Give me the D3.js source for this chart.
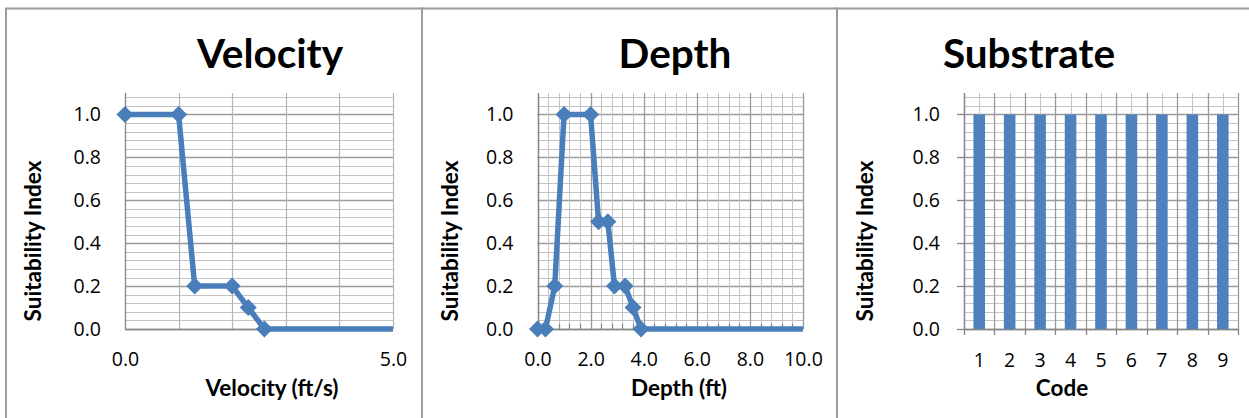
<!DOCTYPE html>
<html>
<head>
<meta charset="utf-8">
<script src="https://cdn.jsdelivr.net/npm/d3@7"></script>
<style>
  body { margin: 0; background: #fff; }
  svg { display: block; font-family: Lato, "Open Sans", sans-serif; }
</style>
</head>
<body>
<svg id="chart" width="1249" height="418"></svg>
<script>
// suitability curves
const velocityFt = [0, 1.0, 1.3, 2.0, 2.3, 2.6, 10]
const velocitySI = [1, 1, 0.2, 0.2, 0.1, 0, 0]
const depthFt = [0, 0.3, 0.65, 1.0, 2.0, 2.3, 2.65, 2.9, 3.3, 3.6, 3.9, 20]
const depthSI = [0, 0, 0.2, 1, 1, 0.5, 0.5, 0.2, 0.2, 0.1, 0, 0]
const substrateCodes = ["1", "2", "3", "4", "5", "6", "7", "8", "9"]
const substrateSI = [1, 1, 1, 1, 1, 1, 1, 1, 1]

const siTicks = [0, 0.2, 0.4, 0.6, 0.8, 1.0]
const velocityTicks = [0, 5]
const depthTicks = [0, 2, 4, 6, 8, 10]

const blue = "#4a7ebb"
const majorGrid = "#9a9a9a"
const minorGrid = "#c4c4c4"
const fmt = d3.format(".1f")
const tickFont = 19.5
const labelFont = 22.5

const svg = d3.select("#chart")
const plotTop = 93
const plotBottom = 329

// panel frames
const frames = [[6, 422], [422, 837], [837, 1260]]
svg.selectAll("rect.frame")
  .data(frames)
  .enter()
  .append("rect")
  .attr("class", "frame")
  .attr("x", d => d[0])
  .attr("y", 8.5)
  .attr("width", d => d[1] - d[0])
  .attr("height", 440)
  .attr("fill", "none")
  .attr("stroke", "#9c9c9c")
  .attr("stroke-width", 2)

const yScale = d3.scaleLinear().domain([0, 1.1]).range([plotBottom, plotTop])
const yMinor = d3.range(28).map(i => i * 0.04)

function hLines(g, x0, x1) {
  g.selectAll("line.hgrid")
    .data(yMinor)
    .enter()
    .append("line")
    .attr("class", "hgrid")
    .attr("x1", x0)
    .attr("x2", x1)
    .attr("y1", d => Math.round(yScale(d)) + 0.5)
    .attr("y2", d => Math.round(yScale(d)) + 0.5)
    .attr("stroke", (d, i) => (i % 5 === 0 ? majorGrid : minorGrid))
    .attr("stroke-width", (d, i) => (i % 5 === 0 ? 1.3 : 1))
}

function vLines(g, xs, color, width) {
  g.append("g")
    .selectAll("line")
    .data(xs)
    .enter()
    .append("line")
    .attr("x1", d => Math.round(d) + 0.5)
    .attr("x2", d => Math.round(d) + 0.5)
    .attr("y1", plotTop)
    .attr("y2", plotBottom)
    .attr("stroke", color)
    .attr("stroke-width", width)
}

function styleTicks(ax) {
  ax.select(".domain").remove()
  ax.selectAll("text")
    .attr("font-size", tickFont)
    .attr("font-family", "'Open Sans', sans-serif")
    .attr("fill", "#000")
}

function yAxis(g, x0) {
  const ax = g.append("g")
    .attr("transform", `translate(${x0},0)`)
    .call(d3.axisLeft(yScale).tickValues(siTicks).tickFormat(fmt).tickSize(0).tickPadding(24))
  styleTicks(ax)
  return ax
}

function axisLines(g, x0, x1) {
  g.append("line")
    .attr("x1", x0)
    .attr("x2", x1)
    .attr("y1", plotBottom + 0.5)
    .attr("y2", plotBottom + 0.5)
    .attr("stroke", "#868686")
    .attr("stroke-width", 1.3)
  g.append("line")
    .attr("x1", Math.round(x0) + 0.5)
    .attr("x2", Math.round(x0) + 0.5)
    .attr("y1", plotTop)
    .attr("y2", plotBottom)
    .attr("stroke", "#868686")
    .attr("stroke-width", 1.3)
}

function labels(g, title, tx, xTitle, xtx, ytx) {
  g.append("text")
    .attr("x", tx)
    .attr("y", 68)
    .attr("text-anchor", "middle")
    .attr("font-size", 40.5)
    .attr("font-weight", "bold")
    .text(title)
  g.append("text")
    .attr("x", xtx)
    .attr("y", 396)
    .attr("text-anchor", "middle")
    .attr("font-size", labelFont)
    .attr("font-weight", "bold")
    .text(xTitle)
  g.append("text")
    .attr("transform", `translate(${ytx},241) rotate(-90)`)
    .attr("text-anchor", "middle")
    .attr("font-size", labelFont)
    .attr("font-weight", "bold")
    .text("Suitability Index")
}

function drawLine(g, id, x, xs, ys, xMax) {
  const pts = xs.map((d, i) => [d, ys[i]])
  const [x0, x1] = x.range()
  g.append("clipPath")
    .attr("id", id)
    .append("rect")
    .attr("x", x0)
    .attr("y", plotTop - 10)
    .attr("width", x1 - x0)
    .attr("height", plotBottom - plotTop + 20)
  g.append("path")
    .datum(pts)
    .attr("clip-path", `url(#${id})`)
    .attr("fill", "none")
    .attr("stroke", blue)
    .attr("stroke-width", 5.5)
    .attr("stroke-linejoin", "round")
    .attr("d", d3.line().x(d => x(d[0])).y(d => yScale(d[1])))
  g.selectAll("path.marker")
    .data(pts.filter(d => d[0] <= xMax))
    .enter()
    .append("path")
    .attr("class", "marker")
    .attr("fill", blue)
    .attr("transform", d => `translate(${x(d[0])},${yScale(d[1])}) rotate(45)`)
    .attr("d", d3.symbol(d3.symbolSquare, 145))
}

// ---- Velocity ----
{
  const g = svg.append("g")
  const x = d3.scaleLinear().domain([0, 5]).range([125, 393])
  hLines(g, x(0), x(5))
  vLines(g, d3.range(1, 6).map(x), "#b4b4b4", 1.2)
  axisLines(g, x(0), x(5))
  yAxis(g, x(0))
  const ax = g.append("g")
    .attr("transform", `translate(0,${plotBottom})`)
    .call(d3.axisBottom(x).tickValues(velocityTicks).tickFormat(fmt).tickSize(0).tickPadding(23))
  styleTicks(ax)
  labels(g, "Velocity", 270, "Velocity (ft/s)", 272, 41)
  drawLine(g, "clipV", x, velocityFt, velocitySI, 5)
}

// ---- Depth ----
{
  const g = svg.append("g")
  const x = d3.scaleLinear().domain([0, 10]).range([537.5, 803])
  hLines(g, x(0), x(10))
  const minor = d3.range(26).map(i => i * 0.4).filter(d => Math.abs(d / 2 - Math.round(d / 2)) > 1e-6)
  vLines(g, minor.map(x), minorGrid, 1)
  vLines(g, depthTicks.map(x), majorGrid, 1.3)
  axisLines(g, x(0), x(10))
  g.append("g")
    .selectAll("line")
    .data(minor)
    .enter()
    .append("line")
    .attr("x1", d => Math.round(x(d)) + 0.5)
    .attr("x2", d => Math.round(x(d)) + 0.5)
    .attr("y1", plotBottom - 5)
    .attr("y2", plotBottom)
    .attr("stroke", "#868686")
    .attr("stroke-width", 1.3)
  yAxis(g, x(0))
  const ax = g.append("g")
    .attr("transform", `translate(0,${plotBottom})`)
    .call(d3.axisBottom(x).tickValues(depthTicks).tickFormat(fmt).tickSize(0).tickPadding(23))
  styleTicks(ax)
  labels(g, "Depth", 675, "Depth (ft)", 679, 458)
  drawLine(g, "clipD", x, depthFt, depthSI, 10)
}

// ---- Substrate ----
{
  const g = svg.append("g")
  const x = d3.scaleBand().domain(substrateCodes).range([964, 1238]).padding(0)
  const bw = x.bandwidth()
  const edges = substrateCodes.map(d => x(d)).concat([1238])
  hLines(g, 964, 1238)
  vLines(g, substrateCodes.map(d => x(d) + bw / 2), minorGrid, 1)
  vLines(g, edges, majorGrid, 1.3)
  axisLines(g, 964, 1238)
  // outside ticks
  g.append("g")
    .selectAll("line")
    .data(edges)
    .enter()
    .append("line")
    .attr("x1", d => Math.round(d) + 0.5)
    .attr("x2", d => Math.round(d) + 0.5)
    .attr("y1", plotBottom)
    .attr("y2", plotBottom + 6)
    .attr("stroke", "#868686")
    .attr("stroke-width", 1.3)
  g.append("g")
    .selectAll("line")
    .data(siTicks)
    .enter()
    .append("line")
    .attr("x1", 957)
    .attr("x2", 964)
    .attr("y1", d => Math.round(yScale(d)) + 0.5)
    .attr("y2", d => Math.round(yScale(d)) + 0.5)
    .attr("stroke", "#868686")
    .attr("stroke-width", 1.3)
  g.selectAll("rect.bar")
    .data(substrateSI)
    .enter()
    .append("rect")
    .attr("class", "bar")
    .attr("x", (d, i) => x(substrateCodes[i]) + bw * 0.31)
    .attr("width", bw * 0.38)
    .attr("y", d => yScale(d))
    .attr("height", d => plotBottom - yScale(d))
    .attr("fill", "#4f81bd")
  yAxis(g, 964)
  const ax = g.append("g")
    .attr("transform", `translate(0,${plotBottom})`)
    .call(d3.axisBottom(x).tickSize(0).tickPadding(24))
  styleTicks(ax)
  labels(g, "Substrate", 1029, "Code", 1062, 873)
}
</script>
</body>
</html>
